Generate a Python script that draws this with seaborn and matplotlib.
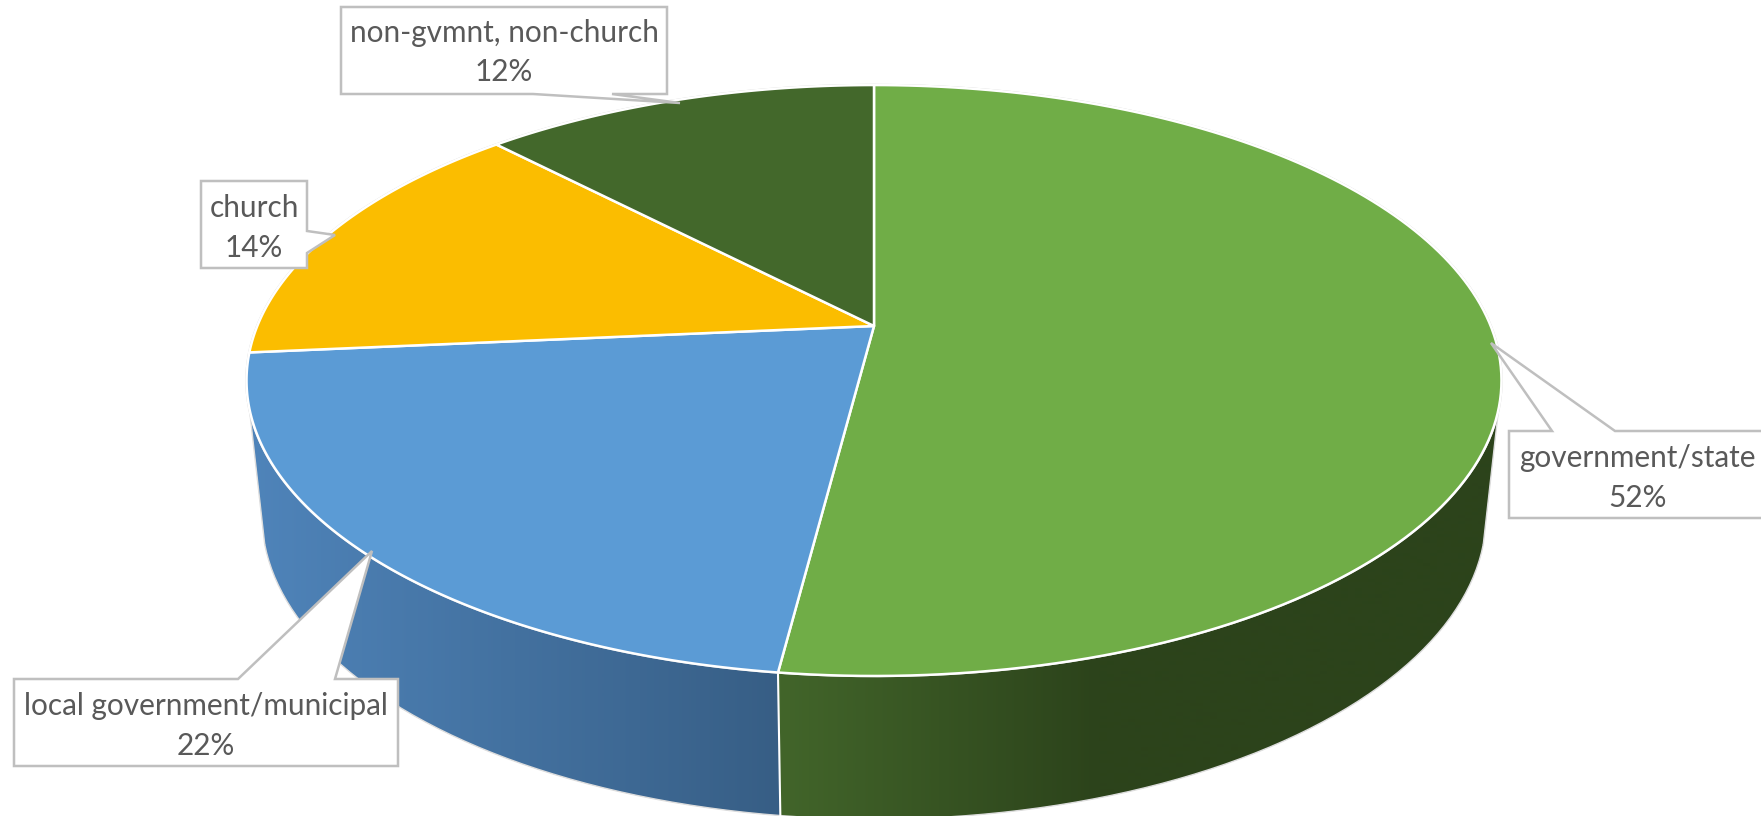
import numpy as np
import matplotlib
matplotlib.use("Agg")
import matplotlib.pyplot as plt
import seaborn as sns

# slices, clockwise from 12 o'clock
categories = ["government/state", "local government/municipal", "church", "non-gvmnt, non-church"]
values = [52.03, 21.52, 14.25, 12.2]
top_colors = ["#70AD47", "#5B9BD5", "#FBBD00", "#43682B"]

# perspective of the two discs, in pixels of the picture
CX = 874
TILT = 0.1845
TOP_DISC = dict(y0=326, a=616.7, b=285.4)
BOTTOM_DISC = dict(y0=459, a=601.6, b=293.7)
# where the side wall leaves the top rim, clockwise from 12 o'clock
WALL_RIGHT = np.radians(106)
WALL_LEFT = np.radians(254)

# callout outlines and text centres
callouts = {
    "government/state": [(1509, 431), (1552, 431), (1491, 343), (1615, 431), (1775, 431), (1775, 518), (1509, 518)],
    "local government/municipal": [(14, 679), (238, 679), (372, 551), (335, 679), (398, 679), (398, 766), (14, 766)],
    "church": [(201, 181), (307, 181), (307, 231), (335, 235), (307, 253), (307, 268), (201, 268)],
    "non-gvmnt, non-church": [(341, 7), (667, 7), (667, 94), (612, 94), (680, 103), (533, 94), (341, 94)],
}
label_pos = {
    "government/state": (1637, 458, 498),
    "local government/municipal": (206, 706, 746),
    "church": (254, 208, 248),
    "non-gvmnt, non-church": (504, 33, 72),
}


def project(theta, disc):
    u = np.sin(theta)
    v = -np.cos(theta)
    d = 1 - TILT * v
    return CX + disc["a"] * u / d, disc["y0"] + disc["b"] * v / d


def draw_wall(ax, start, end, colors, x_from, x_to):
    # horizontal gradient clipped to the wall outline
    ts = np.linspace(start, end, 200)
    xt, yt = project(ts, TOP_DISC)
    xb, yb = project(ts[::-1], BOTTOM_DISC)
    outline = ax.fill(np.r_[xt, xb], np.r_[yt, yb], color="none", lw=0)[0]
    xs = np.arange(0, 1762)
    ramp = np.clip((xs - x_from) / (x_to - x_from), 0, 1)[None, :]
    cmap = sns.blend_palette(colors, as_cmap=True)
    im = ax.imshow(ramp, extent=(0, 1761, 816, 0), cmap=cmap, vmin=0, vmax=1, aspect="auto", zorder=1)
    im.set_clip_path(outline)


sns.set_theme(style="white")
plt.rcParams["font.family"] = ["Lato", "DejaVu Sans"]

fig, ax = plt.subplots(figsize=(17.61, 8.16), dpi=100)
ax.set_position([0, 0, 1, 1])
ax.axis("off")

bounds = np.r_[0, np.cumsum(values)] / np.sum(values) * 2 * np.pi

# side walls, only the two front slices show
draw_wall(ax, WALL_RIGHT, bounds[1], ["#42652A", "#2C431B"], 780, 1100)
draw_wall(ax, bounds[1], WALL_LEFT, ["#4F84BA", "#375E85"], 250, 780)

rim = np.linspace(WALL_RIGHT, WALL_LEFT, 200)
ax.plot(*project(rim, BOTTOM_DISC), color="#DDDDDD", lw=1.0, zorder=1.5)
for t in (WALL_RIGHT, WALL_LEFT):
    ax.plot(*zip(project(t, TOP_DISC), project(t, BOTTOM_DISC)), color="#DDDDDD", lw=1.0, zorder=1.5)
ax.plot(*zip(project(bounds[1], TOP_DISC), project(bounds[1], BOTTOM_DISC)), color="white", lw=1.5, zorder=1.6)

# top face
full = np.linspace(0, 2 * np.pi, 400)
ax.plot(*project(full, TOP_DISC), color="#CFCFCF", lw=1.8, zorder=1.8)
for i, color in enumerate(top_colors):
    ts = np.linspace(bounds[i], bounds[i + 1], 150)
    x, y = project(ts, TOP_DISC)
    ax.fill(np.r_[CX, x], np.r_[TOP_DISC["y0"], y], facecolor=color, edgecolor="white",
            lw=1.8, joinstyle="round", zorder=2)

# callouts
for name, value in zip(categories, values):
    ax.fill(*zip(*callouts[name]), facecolor="white", edgecolor="#BFBFBF", lw=1.8, zorder=3)
    tx, y1, y2 = label_pos[name]
    ax.text(tx, y1, name, ha="center", va="center", fontsize=21.4, color="#595959", zorder=4)
    ax.text(tx, y2, f"{value:.0f}%", ha="center", va="center", fontsize=21.4, color="#595959", zorder=4)

ax.set_xlim(0, 1761)
ax.set_ylim(816, 0)

fig.savefig("out.png", dpi=100)
